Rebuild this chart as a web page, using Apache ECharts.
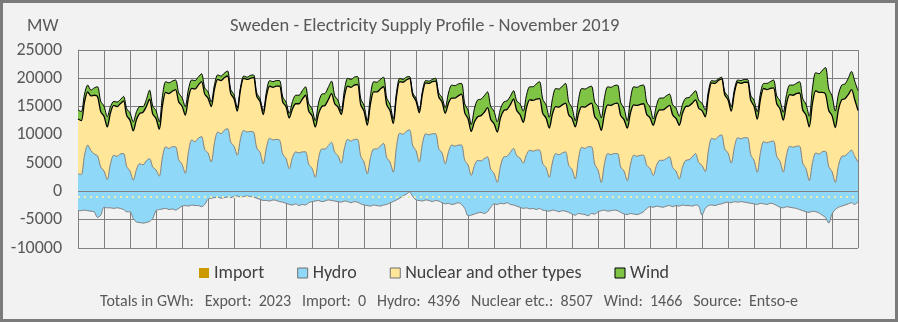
<!DOCTYPE html>
<html>
<head>
<meta charset="utf-8">
<script src="https://cdn.jsdelivr.net/npm/echarts@6/dist/echarts.min.js"></script>
<style>
  html, body { margin: 0; padding: 0; background: #f2f2f2; }
  #wrap { position: relative; width: 898px; height: 322px; }
  #chart { width: 898px; height: 322px; }
  #frame { position: absolute; left: 0; top: 0; width: 898px; height: 322px; box-sizing: border-box;
           border: 3px solid #7b7b7b; pointer-events: none; }
</style>
</head>
<body>
<div id="wrap"><div id="chart"></div><div id="frame"></div></div>
<script>
// Sweden, November 2019: supply by source, one reading every 3 hours (MW).
// Each row is one day: 00, 03, 06, 09, 12, 15, 18, 21 h; the last value closes the month.
const stepHours = 3;
const readingsPerDay = 8;

const hydroMW = [
  3100, 3000, 6400, 8200, 7200, 6600, 6300, 4300,
  3600, 2100, 4900, 6400, 6200, 6600, 6700, 4400,
  3600, 2000, 3900, 4900, 4700, 5400, 5800, 4300,
  3800, 2700, 6100, 7900, 7600, 7900, 7900, 5600,
  4800, 3200, 7000, 9100, 8800, 9400, 9700, 7400,
  6800, 5200, 8600, 10500, 10200, 10800, 11100, 8700,
  8000, 6400, 9300, 10800, 10500, 10600, 10500, 7700,
  6900, 4900, 7800, 9400, 9100, 9200, 9100, 6600,
  5800, 4000, 6000, 7000, 6800, 7000, 7000, 4800,
  4100, 2500, 5800, 7500, 7500, 8100, 8700, 6900,
  6300, 5000, 7700, 9200, 8900, 9200, 9200, 6200,
  5200, 3100, 6000, 7500, 7500, 8000, 8500, 6000,
  5200, 3400, 7900, 10300, 10100, 10600, 10900, 8100,
  7200, 5200, 8500, 10200, 10000, 10200, 10200, 7600,
  6800, 4900, 7000, 8200, 8000, 8200, 8200, 5500,
  4700, 2800, 4600, 5500, 5400, 5800, 6100, 3900,
  3200, 1600, 4500, 6100, 6200, 6900, 7600, 6300,
  5900, 5000, 6500, 7300, 7100, 7300, 7300, 4900,
  4200, 2500, 5200, 6700, 6500, 6800, 7000, 4600,
  3900, 2200, 5800, 7800, 7600, 7900, 7900, 4800,
  3800, 1600, 4900, 6700, 6500, 6700, 6700, 4300,
  3600, 1900, 4800, 6400, 6200, 6400, 6400, 4600,
  4100, 2800, 4600, 5500, 5500, 5800, 6100, 4200,
  3600, 2200, 4300, 5500, 5600, 6100, 6700, 5100,
  4600, 3500, 7300, 9400, 9200, 9700, 10000, 7500,
  6800, 5000, 7900, 9500, 9300, 9500, 9500, 6500,
  5500, 3400, 6900, 8800, 8600, 8800, 8900, 6200,
  5300, 3400, 6400, 8000, 7800, 8000, 8000, 5000,
  4000, 1900, 5100, 6800, 6600, 7000, 7100, 4400,
  3500, 1600, 4600, 6200, 6300, 6800, 7300, 6200,
  5200
];

const nuclearMW = [
  9700, 9500, 9400, 9400, 9700, 10400, 10500, 9800,
  9700, 9300, 9000, 8800, 8800, 8900, 9300, 9000,
  9000, 8700, 8800, 8900, 9300, 9600, 10500, 9400,
  9100, 8300, 9100, 9600, 9700, 9800, 10100, 10200,
  10300, 10300, 9600, 9100, 9300, 9400, 9700, 9800,
  9700, 9800, 9500, 9300, 9400, 9300, 9300, 8600,
  8400, 7800, 8700, 9200, 9300, 9400, 9600, 9100,
  9000, 8700, 9100, 9200, 9300, 9400, 9500, 9200,
  9200, 9000, 8600, 8500, 8700, 9300, 10000, 9400,
  9300, 8900, 7900, 7500, 7700, 8100, 8600, 8600,
  8600, 8600, 9200, 9400, 9500, 9600, 9700, 9100,
  9000, 8600, 9500, 10100, 10100, 10100, 10000, 9300,
  9100, 8600, 8900, 9100, 9200, 9100, 9100, 8900,
  8800, 8700, 8800, 9000, 9100, 9200, 9300, 9100,
  9000, 8900, 8600, 8300, 8500, 8700, 9000, 8400,
  8200, 7800, 7700, 7700, 8000, 8200, 8700, 8800,
  8800, 8900, 8500, 8200, 8300, 8400, 8700, 8000,
  7700, 7200, 8300, 8900, 9000, 9000, 9100, 8900,
  8800, 8700, 8500, 8300, 8400, 8500, 8600, 8900,
  9000, 9200, 7900, 7200, 7300, 7400, 7700, 8400,
  8700, 9200, 8800, 8600, 8700, 8800, 8900, 9100,
  9100, 9300, 9100, 8900, 9000, 9000, 9100, 9000,
  8900, 8900, 8900, 8900, 8900, 9000, 9100, 9300,
  9300, 9500, 9500, 9500, 9500, 9500, 9500, 9600,
  9700, 9700, 9800, 9800, 9900, 9900, 9900, 9600,
  9400, 9200, 9600, 9800, 9800, 9800, 9800, 9600,
  9600, 9400, 9400, 9400, 9400, 9400, 9400, 9300,
  9300, 9200, 9100, 9100, 9200, 9300, 9400, 9400,
  9500, 9500, 10500, 11000, 10900, 10500, 10100, 9900,
  9900, 9700, 9900, 10000, 10100, 10300, 10700, 10000,
  9100
];

const windMW = [
  1600, 1600, 1400, 1200, 1000, 1300, 1700, 1800,
  1800, 1800, 1100, 700, 800, 700, 800, 1200,
  1300, 1600, 1400, 1200, 1000, 1200, 1600, 1400,
  1400, 1300, 1700, 1900, 1900, 1800, 1700, 1600,
  1500, 1500, 1500, 1500, 1500, 1400, 1400, 1100,
  1100, 800, 800, 800, 800, 800, 900, 700,
  700, 600, 400, 400, 400, 500, 500, 600,
  500, 600, 800, 1000, 1000, 1000, 1000, 900,
  800, 800, 1300, 1500, 1500, 1500, 1500, 1300,
  1200, 1100, 1900, 2200, 2100, 2200, 2200, 1400,
  1200, 600, 1100, 1400, 1400, 1400, 1400, 1100,
  1000, 800, 1500, 1800, 1700, 1700, 1700, 1200,
  1100, 800, 700, 600, 500, 500, 300, 400,
  500, 500, 500, 400, 400, 400, 500, 700,
  800, 1000, 1800, 2300, 2200, 2100, 1900, 1600,
  1500, 1200, 2400, 3000, 2900, 2900, 2800, 2300,
  2200, 1800, 1600, 1500, 1500, 1500, 1500, 1700,
  1900, 2000, 2200, 2300, 2400, 2700, 3000, 2500,
  2300, 1900, 2700, 3200, 3200, 3300, 3500, 2300,
  1900, 1100, 2500, 3200, 3200, 3100, 3000, 2600,
  2500, 2200, 2900, 3200, 3200, 3200, 3200, 2300,
  2000, 1300, 2500, 3200, 3200, 3300, 3300, 2200,
  1900, 1100, 1700, 2100, 2100, 2100, 2000, 1800,
  1800, 1600, 1600, 1500, 1500, 1600, 1600, 1400,
  1300, 1200, 700, 400, 400, 300, 300, 500,
  600, 800, 600, 400, 500, 500, 500, 900,
  1000, 1300, 1100, 900, 1100, 1200, 1400, 1400,
  1400, 1400, 1600, 1700, 1800, 1800, 2000, 2000,
  1900, 1900, 2700, 3200, 3300, 3900, 4700, 3800,
  3500, 2900, 2700, 2600, 2600, 2900, 3200, 3300,
  3500
];

// Net export, shown below zero
const exportMW = [
  -3400, -3400, -3300, -3400, -3500, -3600, -4600, -4200,
  -2800, -2900, -2900, -3000, -2900, -3000, -3200, -3600,
  -3600, -4800, -5400, -5500, -5600, -5500, -5300, -4800,
  -3400, -3200, -3100, -3000, -3200, -3100, -3300, -3000,
  -2600, -2500, -2600, -2400, -2500, -2500, -2700, -2300,
  -1400, -1200, -1100, -1000, -1200, -1100, -1000, -1100,
  -900, -800, -1000, -900, -800, -900, -1000, -1200,
  -1400, -1600, -1600, -1700, -1500, -1600, -1800, -1900,
  -2100, -2300, -2400, -2200, -2500, -2300, -2400, -2000,
  -1800, -1700, -1600, -1800, -1700, -1500, -1600, -1700,
  -1800, -1900, -1700, -1800, -2000, -1800, -1900, -2200,
  -2400, -2500, -2600, -2400, -2500, -2600, -2400, -2300,
  -2000, -1800, -1500, -1200, -800, -500, -100, -900,
  -1500, -1600, -1700, -1500, -1600, -1800, -1600, -1700,
  -2000, -2200, -2100, -2300, -2200, -2000, -2300, -3000,
  -4300, -4200, -4000, -3800, -3700, -3900, -3600, -2800,
  -2200, -2300, -2100, -2200, -2000, -2300, -2400, -2600,
  -2800, -3000, -2900, -3100, -3000, -3200, -3000, -3300,
  -3400, -3500, -3300, -3400, -3600, -3400, -3500, -3700,
  -4000, -4200, -3900, -4000, -4100, -4300, -3900, -4000,
  -3600, -3400, -3300, -3500, -3400, -3300, -3400, -3700,
  -4000, -4100, -3900, -4000, -4100, -3900, -3600, -3000,
  -2700, -2800, -2600, -2700, -2800, -2600, -2500, -2700,
  -2500, -2600, -2400, -2500, -2500, -2600, -2400, -2600,
  -4200, -3000, -2500, -2400, -2500, -2300, -2200, -2000,
  -1900, -2000, -1800, -1900, -1800, -1900, -2000, -2100,
  -2200, -2300, -2100, -2200, -2300, -2100, -2200, -2500,
  -2800, -2900, -2700, -2800, -2900, -3000, -3200, -3400,
  -3600, -3700, -3500, -3600, -3800, -4200, -4600, -5600,
  -4000, -3200, -2800, -2600, -2400, -2200, -2000, -2300,
  -1800
];

const importMW = [];
const dottedLevelMW = -900;

const yTicks = { min: -10000, max: 25000, step: 5000 };

const titleText = 'Sweden - Electricity Supply Profile - November 2019';
const unitText = 'MW';
const totalsGWh = { Export: 2023, Import: 0, Hydro: 4396, 'Nuclear etc.': 8507, Wind: 1466 };
const sourceText = 'Entso-e';

const COLORS = { import: '#cc9900', hydro: '#8fd8f8', nuclear: '#ffe699', wind: '#7fc445', grey: '#808080' };
const FONT = 'Carlito, Lato, "Open Sans", sans-serif';

// hour of the month for each reading, used as the category axis
const hourOfMonth = hydroMW.map((_, i) => String(i * stepHours));

const footerText = 'Totals in GWh:   ' +
  Object.keys(totalsGWh).map(k => k + ':  ' + totalsGWh[k]).join('   ') +
  '   Source:  ' + sourceText;

const chart = echarts.init(document.getElementById('chart'), null, { renderer: 'canvas' });

const areaLine = (name, data, fill, lineColor, lineWidth) => ({
  name, type: 'line', stack: 'supply', data,
  smooth: 0.3, symbol: 'none',
  itemStyle: { color: fill },
  lineStyle: { color: lineColor, width: lineWidth },
  areaStyle: { color: fill, opacity: 1 },
  emphasis: { disabled: true }
});

const dayBoundary = idx => idx % readingsPerDay === 0;

chart.setOption({
  backgroundColor: '#f2f2f2',
  animation: false,
  textStyle: { fontFamily: FONT },
  title: [
    { text: titleText, left: 230, top: 17, padding: 0,
      textStyle: { fontSize: 18.5, fontWeight: 'normal', color: '#595959', fontFamily: FONT } },
    { text: unitText, left: 27, top: 17, padding: 0,
      textStyle: { fontSize: 18, fontWeight: 'normal', color: '#595959', fontFamily: FONT } },
    { text: footerText, left: 'center', top: 294, padding: 0,
      textStyle: { fontSize: 16, fontWeight: 'normal', color: '#595959', fontFamily: FONT } }
  ],
  legend: {
    left: 199, top: 264, padding: 0, icon: 'rect', itemWidth: 10, itemHeight: 10, itemGap: 33,
    selectedMode: false,
    textStyle: { fontSize: 18, color: '#404040', fontFamily: FONT },
    data: [
      { name: 'Import', itemStyle: { color: COLORS.import, borderWidth: 0 } },
      { name: 'Hydro', itemStyle: { color: COLORS.hydro, borderColor: '#707070', borderWidth: 1 } },
      { name: 'Nuclear and other types', itemStyle: { color: COLORS.nuclear, borderColor: '#707070', borderWidth: 1 } },
      { name: 'Wind', itemStyle: { color: COLORS.wind, borderColor: '#000000', borderWidth: 1 } }
    ]
  },
  grid: { left: 78, right: 40, top: 50, bottom: 74, containLabel: false, show: false },
  xAxis: {
    type: 'category', data: hourOfMonth, boundaryGap: false,
    axisLabel: { show: false }, axisTick: { show: false }, axisLine: { show: false },
    splitLine: { show: true, interval: dayBoundary, lineStyle: { color: COLORS.grey, width: 1 } }
  },
  yAxis: {
    type: 'value', min: yTicks.min, max: yTicks.max, interval: yTicks.step,
    axisLabel: { fontSize: 18, color: '#595959', margin: 16, fontFamily: FONT, formatter: v => String(v) },
    axisTick: { show: false },
    axisLine: { show: true, lineStyle: { color: COLORS.grey } },
    splitLine: { show: true, lineStyle: { color: COLORS.grey, width: 1 } }
  },
  series: [
    { name: 'Import', type: 'line', data: importMW, symbol: 'none',
      itemStyle: { color: COLORS.import } },
    areaLine('Hydro', hydroMW, COLORS.hydro, '#7f7f7f', 1),
    areaLine('Nuclear and other types', nuclearMW, COLORS.nuclear, '#000000', 1.3),
    areaLine('Wind', windMW, COLORS.wind, '#000000', 1),
    {
      name: 'Export', type: 'line', data: exportMW, smooth: 0.3, symbol: 'none',
      itemStyle: { color: COLORS.hydro },
      lineStyle: { color: '#7f7f7f', width: 1 },
      areaStyle: { color: COLORS.hydro, opacity: 1 },
      emphasis: { disabled: true },
      markLine: {
        silent: true, symbol: ['none', 'none'], label: { show: false },
        data: [
          { yAxis: 0, lineStyle: { color: COLORS.grey, width: 1, type: 'solid' } },
          { yAxis: dottedLevelMW, lineStyle: { color: '#f1ecb0', width: 2, type: [2, 4] } }
        ]
      }
    }
  ]
});
</script>
</body>
</html>
